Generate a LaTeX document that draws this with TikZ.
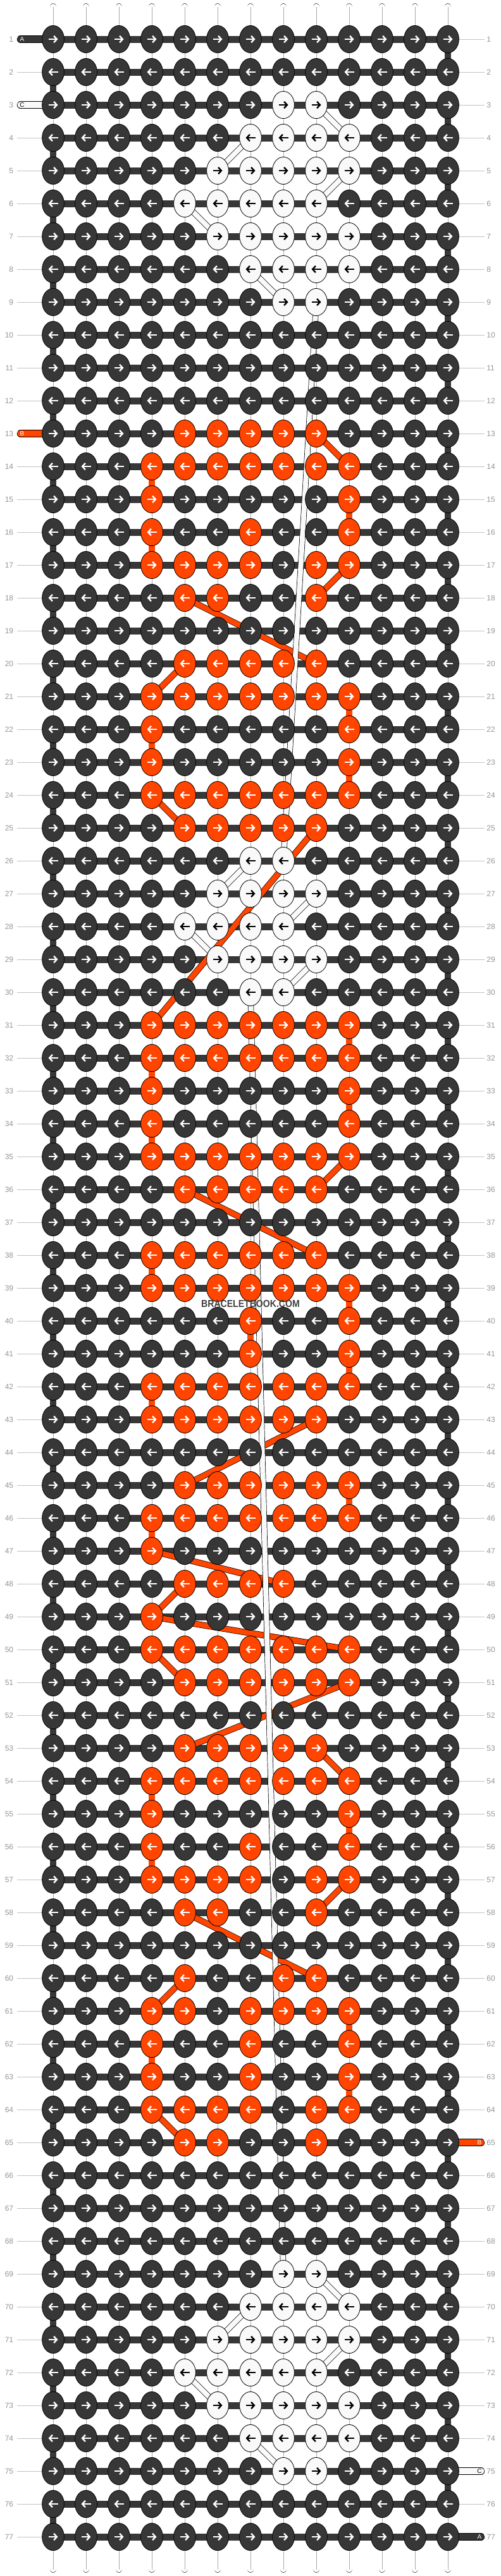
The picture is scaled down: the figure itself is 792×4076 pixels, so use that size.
\documentclass[tikz,border=0pt]{standalone}
\usepackage{fontspec}
\setmainfont{Liberation Sans}
\usepackage{graphicx}
\usetikzlibrary{shapes.geometric,arrows.meta}

\definecolor{threadA}{RGB}{55,55,55}
\definecolor{threadB}{RGB}{255,69,0}
\definecolor{threadC}{RGB}{249,249,249}
\definecolor{rowgray}{RGB}{150,150,150}
\definecolor{tickgray}{RGB}{195,195,195}
\definecolor{warpgray}{RGB}{170,170,170}

\pgfdeclarelayer{bg}
\pgfsetlayers{bg,main}

\tikzset{
  knot/.style={ellipse,draw=black,line width=0.4pt,inner sep=0pt,
    minimum width=17.4pt,minimum height=21.6pt},
  rowbar/.style={draw=threadA,line width=5.5pt},
  warp/.style={draw=black,line width=0.35pt,double=white,double distance=4.6pt},
  warpmid/.style={draw=warpgray,line width=0.4pt},
  edgeturn/.style={draw=threadA,line width=5.3pt},
  orangeturn/.style={draw=black,line width=0.35pt,double=threadB,double distance=4.6pt},
  strandB/.style={draw=black,line width=0.35pt,double=threadB,double distance=4.2pt},
  strandC/.style={draw=black,line width=0.35pt,double=threadC,double distance=4pt},
  pill/.style={draw=black,line width=0.35pt,double distance=5pt,line cap=round},
  pillno/.style={inner sep=0pt,font=\fontsize{5}{6}\selectfont},
  rowno/.style={inner sep=0pt,text=rowgray,font=\fontsize{6}{7}\selectfont},
  tick/.style={draw=tickgray,line width=0.5pt},
  knotarrow/.style={line width=1.2pt,-{Straight Barb[length=2.4pt,width=5.2pt]}}
}

% knot colours other than A
\newcommand\knotcolour[3]{%
  \foreach \cc in #2 {\expandafter\gdef\csname kc-#1-\cc\endcsname{#3}}}
\foreach \r/\cols in {13/{5,...,9},14/{4,...,10},15/{4,10},16/{4,7,10},
  17/{4,5,6,7,9,10},18/{5,6,9},20/{5,...,9},21/{4,...,10},22/{4,10},23/{4,10},
  24/{4,...,10},25/{5,...,9},31/{4,...,10},32/{4,...,10},33/{4,10},34/{4,10},
  35/{4,...,10},36/{5,...,9},38/{4,...,9},39/{4,...,10},40/{7,10},41/{7,10},
  42/{4,...,10},43/{4,...,9},45/{5,...,10},46/{4,...,10},47/{4},48/{5,...,8},
  49/{4},50/{4,...,10},51/{5,...,10},53/{5,...,9},54/{4,...,10},55/{4,10},
  56/{4,7,10},57/{4,5,6,7,9,10},58/{5,6,9},60/{5,8,9},61/{4,5,7,8,9,10},
  62/{4,7,10},63/{4,7,10},64/{4,5,6,7,9,10},65/{5,6,9}}{\knotcolour{\r}{\cols}{threadB}}
\foreach \r/\cols in {3/{8,9},4/{7,...,10},5/{6,...,10},6/{5,...,9},7/{6,...,10},
  8/{7,...,10},9/{8,9},26/{7,8},27/{6,...,9},28/{5,...,8},29/{6,...,9},30/{7,8},
  69/{8,9},70/{7,...,10},71/{6,...,10},72/{5,...,9},73/{6,...,10},74/{7,...,10},
  75/{8,9}}{\knotcolour{\r}{\cols}{threadC}}
% B carried straight down to the next row
\foreach \r/\c in {14/4,15/10,16/4,21/10,22/4,23/10,31/10,32/4,33/10,34/4,38/4,
  39/10,40/7,41/10,42/4,45/10,46/4,54/4,55/10,56/4,61/10,62/4,63/10}
  {\expandafter\gdef\csname ov-\r-\c\endcsname{}}

\begin{document}
\begin{tikzpicture}[x=0.5pt,y=-0.5pt]
\useasboundingbox (0,0) rectangle (792,4076);

\def\whiteknot{threadC}
\foreach \r in {1,...,77}{
  \foreach \c in {1,...,13}{
    \ifcsname kc-\r-\c\endcsname
      \edef\kfill{\csname kc-\r-\c\endcsname}
    \else
      \def\kfill{threadA}
    \fi
    \def\kpen{white}
    \ifx\kfill\whiteknot \def\kpen{black}\fi
    \node[knot,fill=\kfill] (k-\r-\c) at ({84+52*(\c-1)},{62+52*(\r-1)}) {};
    \ifodd\r\relax
      \draw[knotarrow,draw=\kpen] ([xshift=-3.75pt]k-\r-\c.center) -- ([xshift=3.75pt]k-\r-\c.center);
    \else
      \draw[knotarrow,draw=\kpen] ([xshift=3.75pt]k-\r-\c.center) -- ([xshift=-3.75pt]k-\r-\c.center);
    \fi
  }
  \node[rowno,anchor=east] (ln-\r) at (21.5,{62+52*(\r-1)}) {\r};
  \node[rowno,anchor=west] (rn-\r) at (769,{62+52*(\r-1)}) {\r};
}

\begin{pgfonlayer}{bg}
  \fill[white] (0,0) rectangle (792,4076);
  % loose ends of the warp
  \foreach \c in {1,...,13}{
    \coordinate (top-\c) at ({84+52*(\c-1)},10.5);
    \coordinate (bot-\c) at ({84+52*(\c-1)},4065.5);
    \draw[warp,line cap=round] (top-\c) -- (k-1-\c.center);
    \draw[warp,line cap=round] (k-77-\c.center) -- (bot-\c);
    \draw[warpmid] (top-\c) -- (k-1-\c.center);
    \draw[warpmid] (k-77-\c.center) -- (bot-\c);
  }
  \def\warpname{warp}
  \foreach \r in {1,...,76}{
    \pgfmathtruncatemacro\rn{\r+1}
    \foreach \c in {1,...,13}{
      \def\turn{warp}
      \ifodd\r\relax \ifnum\c=13 \def\turn{edgeturn}\fi
      \else \ifnum\c=1 \def\turn{edgeturn}\fi \fi
      \ifcsname ov-\r-\c\endcsname \def\turn{orangeturn}\fi
      \draw[\turn] (k-\r-\c.center) -- (k-\rn-\c.center);
      \ifx\turn\warpname \draw[warpmid] (k-\r-\c.center) -- (k-\rn-\c.center);\fi
    }
  }
  \foreach \r in {1,...,77}{
    \draw[rowbar] (k-\r-1.center) -- (k-\r-13.center);
    \coordinate (gl-\r) at (27,{62+52*(\r-1)});
    \coordinate (gr-\r) at (766,{62+52*(\r-1)});
    \draw[tick] (gl-\r) -- (k-\r-1.west);
    \draw[tick] (k-\r-13.east) -- (gr-\r);
  }
  % B and C travelling behind the knots
  \foreach \ra/\ca/\rb/\cb in {13/9/14/10,17/10/18/9,18/5/20/9,20/5/21/4,24/4/25/5,
    25/9/31/4,35/10/36/9,36/5/38/9,43/9/45/5,47/4/48/8,48/5/49/4,49/4/50/10,
    50/4/51/5,51/10/53/5,53/9/54/10,57/10/58/9,58/5/60/9,60/5/61/4,64/4/65/5}
    \draw[strandB] (k-\ra-\ca.center) -- (k-\rb-\cb.center);
  \foreach \ra/\ca/\rb/\cb in {3/9/4/10,4/7/5/6,5/10/6/9,6/5/7/6,8/7/9/8,9/9/26/8,
    26/7/27/6,27/9/28/8,28/5/29/6,29/9/30/8,30/7/69/8,69/9/70/10,70/7/71/6,
    71/10/72/9,72/5/73/6,74/7/75/8}
    \draw[strandC] (k-\ra-\ca.center) -- (k-\rb-\cb.center);
  % thread ends
  \foreach \r/\pc/\pl/\tc in {1/threadA/A/white,3/threadC/C/black,13/threadB/B/white}{
    \coordinate (pl-\r) at (32.5,{62+52*(\r-1)});
    \draw[pill,double=\pc] (pl-\r) -- (k-\r-1.center);
    \node[pillno,text=\tc] (plt-\r) at (35,{62+52*(\r-1)}) {\pl};
  }
  \foreach \r/\pc/\pl/\tc in {65/threadB/B/white,75/threadC/C/black,77/threadA/A/white}{
    \coordinate (pr-\r) at (760.5,{62+52*(\r-1)});
    \draw[pill,double=\pc] (k-\r-13.center) -- (pr-\r);
    \node[pillno,text=\tc] (prt-\r) at (758,{62+52*(\r-1)}) {\pl};
  }
\end{pgfonlayer}

\node[text=black!75,font=\fontsize{8}{9}\selectfont\bfseries] (mark) at (396,2063)
  {\scalebox{0.88}[1]{BRACELETBOOK.COM}};
\end{tikzpicture}
\end{document}
